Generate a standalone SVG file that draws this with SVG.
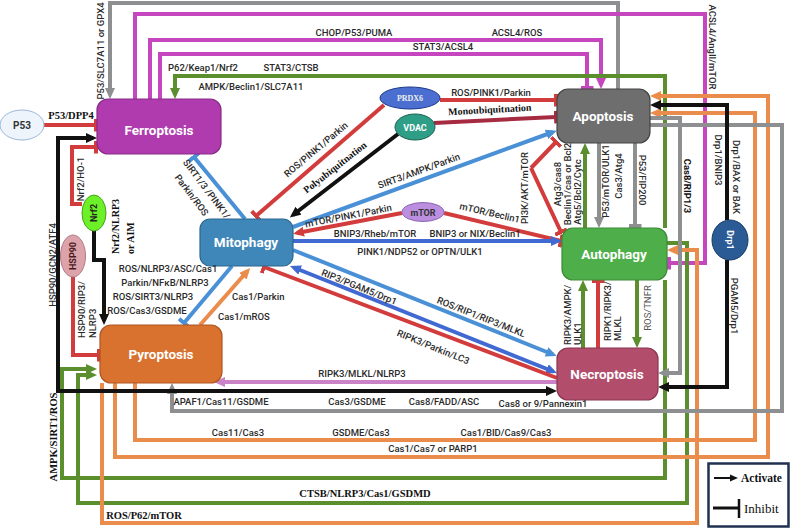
<svg xmlns="http://www.w3.org/2000/svg" width="790" height="528" viewBox="0 0 790 528">
<style>
.c{fill:none;stroke-width:4;stroke-linejoin:miter;stroke-linecap:butt}
.red{stroke:#D23C3C}.dred{stroke:#A62A40}.mag{stroke:#C646BF}.gray{stroke:#8D8F91}.grn{stroke:#5B8E2C}
.org{stroke:#EA8C4C}.blk{stroke:#111}.lb{stroke:#4A90D6}.rb{stroke:#4169D2}.pnk{stroke:#C983C6}
.t{font-family:Roboto,"Liberation Sans",sans-serif;font-size:9.5px;font-weight:500;fill:#2a2a2a}
.m{text-anchor:middle}
.s{font-family:"Liberation Serif",serif;font-weight:bold;font-size:10.5px;fill:#111}
.n{font-family:Roboto,"Liberation Sans",sans-serif;font-weight:bold;font-size:13.5px;fill:#fff;text-anchor:middle}
.e{font-family:Roboto,"Liberation Sans",sans-serif;font-weight:bold;font-size:9px;text-anchor:middle}
</style>
<defs>
<marker id="aRed" viewBox="0 0 11 10" refX="7" refY="5" markerWidth="11" markerHeight="10" markerUnits="userSpaceOnUse" orient="auto-start-reverse"><path d="M0,0L11,5L0,10z" fill="#D23C3C"/></marker>
<marker id="aMag" viewBox="0 0 11 10" refX="7" refY="5" markerWidth="11" markerHeight="10" markerUnits="userSpaceOnUse" orient="auto-start-reverse"><path d="M0,0L11,5L0,10z" fill="#C646BF"/></marker>
<marker id="aGray" viewBox="0 0 11 10" refX="7" refY="5" markerWidth="11" markerHeight="10" markerUnits="userSpaceOnUse" orient="auto-start-reverse"><path d="M0,0L11,5L0,10z" fill="#8D8F91"/></marker>
<marker id="aGrn" viewBox="0 0 11 10" refX="7" refY="5" markerWidth="11" markerHeight="10" markerUnits="userSpaceOnUse" orient="auto-start-reverse"><path d="M0,0L11,5L0,10z" fill="#5B8E2C"/></marker>
<marker id="aOrg" viewBox="0 0 11 10" refX="7" refY="5" markerWidth="11" markerHeight="10" markerUnits="userSpaceOnUse" orient="auto-start-reverse"><path d="M0,0L11,5L0,10z" fill="#EA8C4C"/></marker>
<marker id="aBlk" viewBox="0 0 11 10" refX="7" refY="5" markerWidth="11" markerHeight="10" markerUnits="userSpaceOnUse" orient="auto-start-reverse"><path d="M0,0L11,5L0,10z" fill="#111"/></marker>
<marker id="aLb" viewBox="0 0 11 10" refX="7" refY="5" markerWidth="11" markerHeight="10" markerUnits="userSpaceOnUse" orient="auto-start-reverse"><path d="M0,0L11,5L0,10z" fill="#4A90D6"/></marker>
<marker id="aRb" viewBox="0 0 11 10" refX="7" refY="5" markerWidth="11" markerHeight="10" markerUnits="userSpaceOnUse" orient="auto-start-reverse"><path d="M0,0L11,5L0,10z" fill="#4169D2"/></marker>
<marker id="aPnk" viewBox="0 0 11 10" refX="7" refY="5" markerWidth="11" markerHeight="10" markerUnits="userSpaceOnUse" orient="auto-start-reverse"><path d="M0,0L11,5L0,10z" fill="#C983C6"/></marker>
<marker id="iRed" viewBox="0 0 4 13" refX="2" refY="6.5" markerWidth="4" markerHeight="13" markerUnits="userSpaceOnUse" orient="auto"><rect width="4" height="13" fill="#D23C3C"/></marker>
<marker id="iDred" viewBox="0 0 4 13" refX="2" refY="6.5" markerWidth="4" markerHeight="13" markerUnits="userSpaceOnUse" orient="auto"><rect width="4" height="13" fill="#A62A40"/></marker>
<marker id="iMag" viewBox="0 0 4 13" refX="2" refY="6.5" markerWidth="4" markerHeight="13" markerUnits="userSpaceOnUse" orient="auto"><rect width="4" height="13" fill="#C646BF"/></marker>
<marker id="iGray" viewBox="0 0 4 13" refX="2" refY="6.5" markerWidth="4" markerHeight="13" markerUnits="userSpaceOnUse" orient="auto"><rect width="4" height="13" fill="#8D8F91"/></marker>
<marker id="iLb" viewBox="0 0 4 13" refX="2" refY="6.5" markerWidth="4" markerHeight="13" markerUnits="userSpaceOnUse" orient="auto"><rect width="4" height="13" fill="#4A90D6"/></marker>
</defs>
<rect width="790" height="528" fill="#fff"/>
<g id="connectors">
<path class="c gray" d="M618,89 V3 H110 V95" marker-end="url(#aGray)"/>
<path class="c mag" d="M135,99 V14 H705 V263 H669" marker-end="url(#iMag)"/>
<path class="c mag" d="M150,99 V40 H601 V85" marker-end="url(#aMag)"/>
<path class="c mag" d="M160,99 V54 H587 V88" marker-end="url(#iMag)"/>
<path class="c grn" d="M665,228 V76 H175 V95" marker-end="url(#aGrn)"/>
<path class="c grn" d="M665,280 V478 H62 V369 H93" marker-end="url(#aGrn)"/>
<path class="c grn" d="M667,243 H687 V503 H78 V375 H93" marker-end="url(#aGrn)"/>
<path class="c org" d="M115,383 V457 H768 V96 H654" marker-end="url(#aOrg)"/>
<path class="c org" d="M135,383 V440 H755 V113 H654" marker-end="url(#aOrg)"/>
<path class="c org" d="M102,383 V523 H697 V250 H671" marker-end="url(#aOrg)"/>
<path class="c gray" d="M650,125 H782 V411 H172 V387" marker-end="url(#aGray)"/>
<path class="c gray" d="M650,118 H680 V373 H662" marker-end="url(#aGray)"/>
<path class="c blk" d="M727,220 V105 H654" marker-end="url(#aBlk)"/>
<path class="c blk" d="M727,260 V387 H662" marker-end="url(#aBlk)"/>
<path class="c grn" d="M585,228 V147" marker-end="url(#aGrn)"/>
<path class="c gray" d="M599,143 V224" marker-end="url(#aGray)"/>
<path class="c gray" d="M635,143 V226" marker-end="url(#iGray)"/>
<path class="c red" d="M531,168 L556,142" marker-end="url(#iRed)"/>
<path class="c red" d="M531,168 L561,232" marker-end="url(#iRed)"/>
<path class="c red" d="M440,100 H556" marker-end="url(#iRed)"/>
<path class="c dred" d="M434,123 L556,117" marker-end="url(#iDred)"/>
<path class="c red" d="M384,105 L256,216" marker-end="url(#iRed)"/>
<path class="c blk" d="M398,134 L293,215" marker-end="url(#aBlk)"/>
<path class="c lb" d="M293,227 L553,132" marker-end="url(#aLb)"/>
<path class="c red" d="M402,213 L297,233" marker-end="url(#aRed)"/>
<path class="c red" d="M444,213 L561,241" marker-end="url(#iRed)"/>
<path class="c rb" d="M293,241 H558" marker-end="url(#aRb)"/>
<path class="c lb" d="M293,250 L553,354.5" marker-end="url(#aLb)"/>
<path class="c rb" d="M553.3,371.5 L293.7,267.5" marker-start="url(#aRb)" marker-end="url(#aRb)"/>
<path class="c red" d="M557,378 L264,267" marker-end="url(#iRed)"/>
<path class="c pnk" d="M557,382 H218" marker-end="url(#aPnk)"/>
<path class="c blk" d="M93,138 H58 V391 H553" marker-start="url(#aBlk)" marker-end="url(#aBlk)"/>
<path class="c red" d="M44,125 H96" marker-end="url(#iRed)"/>
<path class="c red" d="M82,204 H72 V147 H96" marker-end="url(#iRed)"/>
<path class="c blk" d="M94,231 V260 H104 V321" marker-end="url(#aBlk)"/>
<path class="c red" d="M73,277 V355 H99" marker-end="url(#iRed)"/>
<path class="c lb" d="M245,219 L194,157" marker-end="url(#iLb)"/>
<path class="c lb" d="M232,266 L184,323" marker-end="url(#iLb)"/>
<path class="c org" d="M200,325 L247.5,271" marker-end="url(#aOrg)"/>
<path class="c grn" d="M583,348 V284" marker-end="url(#aGrn)"/>
<path class="c red" d="M598,348 V281" marker-end="url(#iRed)"/>
<path class="c grn" d="M637,280 V344" marker-end="url(#aGrn)"/>
</g>
<g id="ferroptosis"><rect x="97" y="99" width="124" height="55" rx="11" fill="#AF3BAE" stroke="#8A2A88" stroke-width="1.2"/><text class="n" x="159" y="135">Ferroptosis</text></g>
<g id="apoptosis"><rect x="557" y="89" width="93" height="54" rx="11" fill="#6E6E6E" stroke="#444" stroke-width="1.2"/><text class="n" x="603" y="121">Apoptosis</text></g>
<g id="mitophagy"><rect x="200" y="219" width="93" height="47" rx="10" fill="#3F87B9" stroke="#2B6690" stroke-width="1.2"/><text class="n" x="246" y="247">Mitophagy</text></g>
<g id="autophagy"><rect x="562" y="228" width="105" height="52" rx="11" fill="#4EAE4A" stroke="#3C8A38" stroke-width="1.2"/><text class="n" x="614" y="259">Autophagy</text></g>
<g id="pyroptosis"><rect x="100" y="325" width="122" height="58" rx="11" fill="#D9712F" stroke="#B05520" stroke-width="1.2"/><text class="n" x="161" y="359">Pyroptosis</text></g>
<g id="necroptosis"><rect x="557" y="348" width="101" height="52" rx="11" fill="#B24E6C" stroke="#8A3550" stroke-width="1.2"/><text class="n" x="607" y="379">Necroptosis</text></g>
<g id="p53"><ellipse cx="22" cy="125" rx="22" ry="15" fill="#EEF4FC" stroke="#9BB5DA"/><text class="e" x="22" y="129" fill="#333" style="font-size:10px">P53</text></g>
<g id="prdx6"><ellipse cx="410" cy="98" rx="30" ry="11" fill="#4B6FD1" stroke="#1E3A8A"/><text x="410" y="101" text-anchor="middle" style="font-family:'Liberation Serif',serif;font-weight:bold;font-size:8px;fill:#eee">PRDX6</text></g>
<g id="vdac"><ellipse cx="415" cy="127" rx="20" ry="13" fill="#2E9E86" stroke="#1D5F50"/><text class="e" x="415" y="130.5" fill="#fff">VDAC</text></g>
<g id="mtor"><ellipse cx="423" cy="212" rx="21" ry="9.5" fill="#BB8EE0" stroke="#8A66B0"/><text class="e" x="423" y="215.5" fill="#333">mTOR</text></g>
<g id="nrf2"><ellipse cx="94" cy="213" rx="12" ry="18" fill="#6CF028" stroke="#4AA020"/><text class="e" transform="translate(97,213) rotate(-90)" fill="#222">Nrf2</text></g>
<g id="hsp90"><ellipse cx="73" cy="256" rx="12.5" ry="21" fill="#DCA3AA" stroke="#B07A84"/><text class="e" transform="translate(76,256) rotate(-90)" fill="#4a1a1a">HSP90</text></g>
<g id="drp1"><ellipse cx="730" cy="240" rx="18" ry="20" fill="#2A5B94" stroke="#1A3A66"/><text class="e" transform="translate(727,240) rotate(90)" fill="#fff">Drp1</text></g>
<g id="labels">
<text class="t m" transform="translate(104,51) rotate(-90)">P53/SLC7A11 or GPX4</text>
<text class="t m" x="354" y="36">CHOP/P53/PUMA</text>
<text class="t m" x="517" y="36">ACSL4/ROS</text>
<text class="t m" x="443" y="50">STAT3/ACSL4</text>
<text class="t m" x="203" y="71">P62/Keap1/Nrf2</text>
<text class="t m" x="291" y="71">STAT3/CTSB</text>
<text class="t m" x="251" y="90">AMPK/Beclin1/SLC7A11</text>
<text class="t m" transform="translate(709,47) rotate(90)">ACSL4/AngII/mTOR</text>
<text class="t m" x="491" y="96">ROS/PINK1/Parkin</text>
<text class="s m" transform="translate(490,113) rotate(-3)" style="font-size:10px">Monoubiquitnation</text>
<text class="t m" transform="translate(318,152) rotate(-40)">ROS/PINK1/Parkin</text>
<text class="s m" transform="translate(337,170) rotate(-38)" style="font-size:10px">Polyubiquitnation</text>
<text class="t m" transform="translate(420,174) rotate(-20)">SIRT3/AMPK/Parkin</text>
<text class="t m" transform="translate(349,219) rotate(-11)">mTOR/PINK1/Parkin</text>
<text class="t m" transform="translate(489,216) rotate(13)">mTOR/Beclin1</text>
<text class="t m" transform="translate(528,188) rotate(-90)">PI3K/AKT/mTOR</text>
<text class="t m" transform="translate(561,184) rotate(-90)">Atg3/cas8</text>
<text class="t m" transform="translate(571,184) rotate(-90)">Beclin1/cas or Bcl2</text>
<text class="t m" transform="translate(581,192) rotate(-90)">Atg5/Bcl2/Cytc</text>
<text class="t m" transform="translate(609,181) rotate(-90)">P53/mTOR/ULK1</text>
<text class="t m" transform="translate(622,176) rotate(-90)">Cas3/Atg4</text>
<text class="t m" transform="translate(639,180) rotate(90)">P53/FIP200</text>
<text class="t m" transform="translate(684,186) rotate(90)" style="font-weight:bold;fill:#111">Cas8/RIP1/3</text>
<text class="t m" transform="translate(715,160) rotate(90)">Drp1/BNIP3</text>
<text class="t m" transform="translate(733,177) rotate(90)">Drp1/BAX or BAK</text>
<text class="t m" transform="translate(731,306) rotate(90)">PGAM5/Drp1</text>
<text class="t m" x="375" y="237">BNIP3/Rheb/mTOR</text>
<text class="t m" x="475" y="237">BNIP3 or NIX/Beclin1</text>
<text class="t m" x="420" y="255">PINK1/NDP52 or OPTN/ULK1</text>
<text class="t m" transform="translate(358,290) rotate(22)">RIP3/PGAM5/Drp1</text>
<text class="t m" transform="translate(480,320) rotate(21.5)">ROS/RIP1/RIP3/MLKL</text>
<text class="t m" transform="translate(432,350) rotate(22)">RIPK3/Parkin/LC3</text>
<text class="t" transform="translate(571,345) rotate(-90)">RIPK3/AMPK/</text>
<text class="t" transform="translate(581,345) rotate(-90)">ULK1</text>
<text class="t" transform="translate(611,341) rotate(-90)">RIPK1/RIPK3/</text>
<text class="t" transform="translate(621,341) rotate(-90)">MLKL</text>
<text class="t m" transform="translate(651,308) rotate(-90)" style="font-weight:400;fill:#555">ROS/TNFR</text>
<text class="t m" transform="translate(204,191) rotate(53)">SIRT1/3 /PINK1/</text>
<text class="t m" transform="translate(189,197) rotate(53)">Parkin/ROS</text>
<text class="s m" x="71" y="119">P53/DPP4</text>
<text class="t m" transform="translate(84,179) rotate(-90)">Nrf2/HO-1</text>
<text class="s" transform="translate(119,254) rotate(-90)" style="font-size:10px">Nrf2/NLRP3</text>
<text class="s" transform="translate(134,254) rotate(-90)" style="font-size:10px">or AIM</text>
<text class="t m" transform="translate(56,265) rotate(-90)">HSP90/GCN2/ATF4</text>
<text class="t" transform="translate(85,338) rotate(-90)">HSP90/RIP3/</text>
<text class="t" transform="translate(96,338) rotate(-90)">NLRP3</text>
<text class="t m" x="168" y="272">ROS/NLRP3/ASC/Cas1</text>
<text class="t m" x="165" y="286">Parkin/NFκB/NLRP3</text>
<text class="t m" x="153" y="300">ROS/SIRT3/NLRP3</text>
<text class="t m" x="147" y="314">ROS/Cas3/GSDME</text>
<text class="t" x="232" y="300">Cas1/Parkin</text>
<text class="t" x="218" y="320">Cas1/mROS</text>
<text class="t m" x="362" y="377">RIPK3/MLKL/NLRP3</text>
<text class="t m" x="221" y="405">APAF1/Cas11/GSDME</text>
<text class="t m" x="357" y="405">Cas3/GSDME</text>
<text class="t m" x="444" y="405">Cas8/FADD/ASC</text>
<text class="t m" x="543" y="407">Cas8 or 9/Pannexin1</text>
<text class="t m" x="238" y="436">Cas11/Cas3</text>
<text class="t m" x="361" y="436">GSDME/Cas3</text>
<text class="t m" x="506" y="436">Cas1/BID/Cas9/Cas3</text>
<text class="t m" x="433" y="452">Cas1/Cas7 or PARP1</text>
<text class="s m" transform="translate(57,437) rotate(-90)">AMPK/SIRT1/ROS</text>
<text class="s m" x="365" y="497">CTSB/NLRP3/Cas1/GSDMD</text>
<text class="s m" x="144" y="519">ROS/P62/mTOR</text>
</g>
<g id="legend">
<rect x="708.5" y="463.5" width="80" height="63" fill="#fff" stroke="#1F3050" stroke-width="2.5"/>
<line x1="714" y1="478" x2="731" y2="478" stroke="#111" stroke-width="2"/>
<path d="M730,474.5 L738,478 L730,481.5z" fill="#111"/>
<text x="741" y="482" style="font-family:'Liberation Serif',serif;font-weight:bold;font-size:11.5px;fill:#111">Activate</text>
<line x1="713" y1="508" x2="738" y2="508" stroke="#111" stroke-width="3"/>
<line x1="739" y1="499" x2="739" y2="518" stroke="#111" stroke-width="2.5"/>
<text x="744" y="513" style="font-family:'Liberation Serif',serif;font-size:13px;fill:#111">Inhibit</text>
</g>
</svg>
